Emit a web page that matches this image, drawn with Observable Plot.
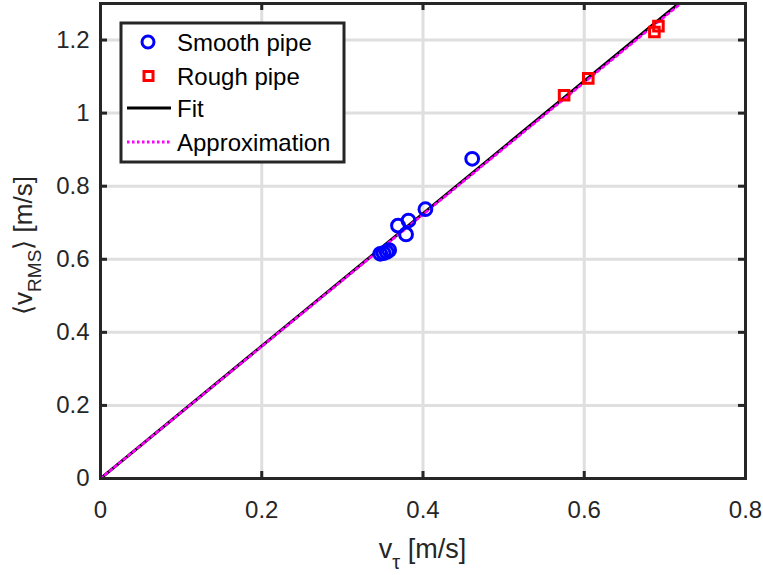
<!DOCTYPE html>
<html>
<head>
<meta charset="utf-8">
<script src="https://cdn.jsdelivr.net/npm/d3@7"></script>
<script src="https://cdn.jsdelivr.net/npm/@observablehq/plot@0.6"></script>
<style>
  html, body { margin: 0; padding: 0; background: #fff; }
  #wrap { position: relative; width: 763px; height: 575px; }
  #legend { position: absolute; left: 0; top: 0; pointer-events: none; }
</style>
</head>
<body>
<div id="wrap"></div>
<script>
// Data
const smoothX = [0.347, 0.351, 0.355, 0.358, 0.369, 0.379, 0.382, 0.403, 0.461];
const smoothY = [0.615, 0.617, 0.620, 0.625, 0.692, 0.668, 0.706, 0.737, 0.875];
const roughX = [0.575, 0.605, 0.687, 0.692];
const roughY = [1.049, 1.095, 1.222, 1.238];
const fitX = [0, 0.8];
const fitY = [0, 1.450];
const approxX = [0, 0.8];
const approxY = [0, 1.445];
const xTicks = [0, 0.2, 0.4, 0.6, 0.8];
const xTickLabels = ["0", "0.2", "0.4", "0.6", "0.8"];
const yTicks = [0, 0.2, 0.4, 0.6, 0.8, 1, 1.2];
const yTickLabels = ["0", "0.2", "0.4", "0.6", "0.8", "1", "1.2"];
const xDomain = [0, 0.8];
const yDomain = [0, 1.3];

const W = 763, H = 575;
const mL = 100, mR = 18, mT = 3, mB = 97;
const ink = "#262626";
const font = "Liberation Sans, Arial, Helvetica, sans-serif";

const smooth = smoothX.map((x, i) => ({x, y: smoothY[i]}));
const rough = roughX.map((x, i) => ({x, y: roughY[i]}));
const fit = fitX.map((x, i) => ({x, y: fitY[i]}));
const approx = approxX.map((x, i) => ({x, y: approxY[i]}));

// tick length in data units (7px inward)
const pxX = (W - mL - mR) / (xDomain[1] - xDomain[0]);
const pxY = (H - mT - mB) / (yDomain[1] - yDomain[0]);
const tlx = 7 / pxX, tly = 7 / pxY;

const xLab = new Map(xTicks.map((t, i) => [t, xTickLabels[i]]));
const yLab = new Map(yTicks.map((t, i) => [t, yTickLabels[i]]));

const chart = Plot.plot({
  width: W, height: H,
  marginLeft: mL, marginRight: mR, marginTop: mT, marginBottom: mB,
  style: {fontFamily: font, fontSize: "24px", color: ink, background: "#fff"},
  x: {domain: xDomain, ticks: xTicks},
  y: {domain: yDomain, ticks: yTicks},
  marks: [
    Plot.gridX(xTicks, {stroke: "#dfdfdf", strokeOpacity: 1, strokeWidth: 3}),
    Plot.gridY(yTicks, {stroke: "#dfdfdf", strokeOpacity: 1, strokeWidth: 3}),
    Plot.line(fit, {x: "x", y: "y", stroke: "black", strokeWidth: 3, clip: true}),
    Plot.line(approx, {x: "x", y: "y", stroke: "#ff00ff", strokeWidth: 2.6, strokeDasharray: "2.5,3.5", clip: true}),
    Plot.dot(smooth, {x: "x", y: "y", r: 6.4, stroke: "#0000ff", strokeWidth: 3, fill: "none", symbol: "circle"}),
    Plot.dot(rough, {x: "x", y: "y", r: 5.4, stroke: "#ff0000", strokeWidth: 3, fill: "none", symbol: "square"}),
    // inward ticks (all four sides)
    Plot.ruleX(xTicks, {x: d => d, y1: yDomain[0], y2: yDomain[0] + tly, stroke: ink, strokeWidth: 3}),
    Plot.ruleX(xTicks, {x: d => d, y1: yDomain[1], y2: yDomain[1] - tly, stroke: ink, strokeWidth: 3}),
    Plot.ruleY(yTicks, {y: d => d, x1: xDomain[0], x2: xDomain[0] + tlx, stroke: ink, strokeWidth: 3}),
    Plot.ruleY(yTicks, {y: d => d, x1: xDomain[1], x2: xDomain[1] - tlx, stroke: ink, strokeWidth: 3}),
    Plot.frame({stroke: ink, strokeWidth: 3}),
    Plot.axisX(xTicks, {anchor: "bottom", tickSize: 0, tickPadding: 22, tickFormat: d => xLab.get(d), fill: ink, fontSize: 24, label: null}),
    Plot.axisY(yTicks, {anchor: "left", tickSize: 0, tickPadding: 11, tickFormat: d => yLab.get(d), fill: ink, fontSize: 24, label: null})
  ]
});

document.getElementById("wrap").appendChild(chart);

const svg = d3.select(chart);
// x-axis label
const xl = svg.append("text")
  .attr("x", (mL + W - mR) / 2).attr("y", 558)
  .attr("text-anchor", "middle")
  .attr("fill", ink).attr("font-family", font).attr("font-size", 27);
xl.append("tspan").text("v");
xl.append("tspan").attr("dy", 11).attr("font-size", 20).text("τ");
xl.append("tspan").attr("dy", -11).text(" [m/s]");

// y-axis label
const yl = svg.append("text")
  .attr("transform", `translate(32,${(mT + H - mB) / 2 + 5}) rotate(-90)`)
  .attr("text-anchor", "middle")
  .attr("fill", ink).attr("font-family", font).attr("font-size", 26);
yl.append("tspan").text("⟨v");
yl.append("tspan").attr("dy", 9).attr("font-size", 19).text("RMS");
yl.append("tspan").attr("dy", -9).text("⟩ [m/s]");

// legend overlay
const lg = d3.select("#wrap").append("svg").attr("id", "legend")
  .attr("width", W).attr("height", H);
lg.append("rect").attr("x", 121).attr("y", 23).attr("width", 223).attr("height", 139)
  .attr("fill", "#fff").attr("stroke", ink).attr("stroke-width", 3);
const rows = [
  {label: "Smooth pipe", y: 42, kind: "circle"},
  {label: "Rough pipe", y: 76, kind: "square"},
  {label: "Fit", y: 108, kind: "line"},
  {label: "Approximation", y: 142, kind: "dotted"}
];
rows.forEach(r => {
  if (r.kind === "circle") {
    lg.append("circle").attr("cx", 148).attr("cy", r.y).attr("r", 6)
      .attr("fill", "none").attr("stroke", "#0000ff").attr("stroke-width", 3);
  } else if (r.kind === "square") {
    lg.append("rect").attr("x", 144).attr("y", r.y - 4.5).attr("width", 9).attr("height", 9)
      .attr("fill", "none").attr("stroke", "#ff0000").attr("stroke-width", 3);
  } else if (r.kind === "line") {
    lg.append("line").attr("x1", 127).attr("x2", 171).attr("y1", r.y).attr("y2", r.y)
      .attr("stroke", "black").attr("stroke-width", 3);
  } else {
    lg.append("line").attr("x1", 127).attr("x2", 171).attr("y1", r.y).attr("y2", r.y)
      .attr("stroke", "#ff00ff").attr("stroke-width", 3).attr("stroke-dasharray", "2.5,2.5");
  }
  lg.append("text").attr("x", 177).attr("y", r.y + 9)
    .attr("fill", "black").attr("font-family", font).attr("font-size", 24).text(r.label);
});
</script>
</body>
</html>
